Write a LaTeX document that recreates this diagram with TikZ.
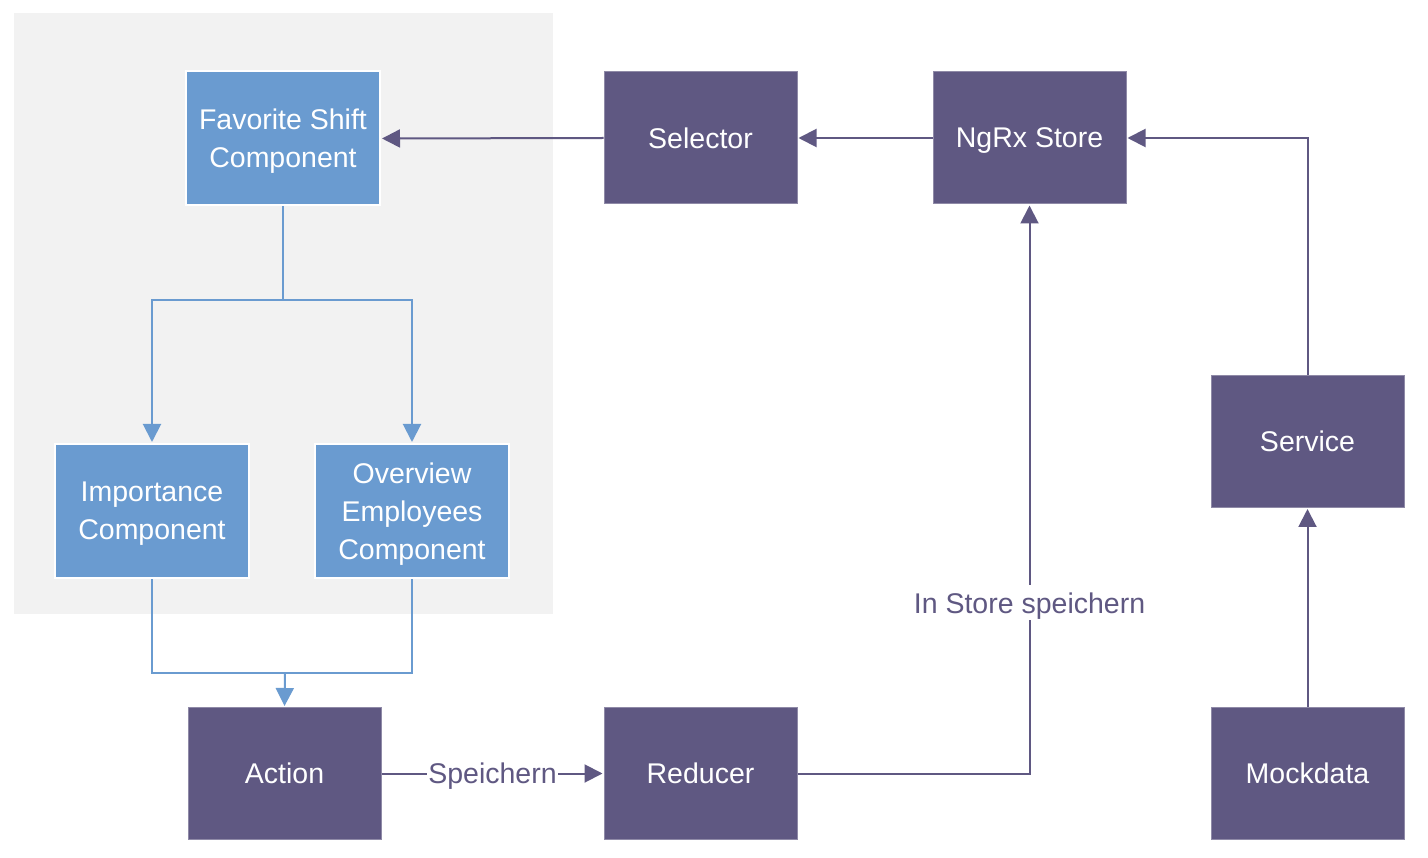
\documentclass[tikz,border=0pt]{standalone}
\usepackage{fontspec}
\setmainfont{Liberation Sans}
\usetikzlibrary{arrows.meta}
\definecolor{lblue}{HTML}{6A9BD0}
\definecolor{dpurple}{HTML}{5F5882}
\definecolor{bggray}{HTML}{F2F2F2}
\begin{document}
\begin{tikzpicture}[x=1pt,y=-1pt,
  every node/.style={font=\fontsize{28.5}{38}\selectfont, align=center, inner sep=0pt, text depth=0pt},
  bluebox/.style={rectangle, fill=lblue, draw=white, line width=2pt, text=white, minimum width=194pt, minimum height=134pt},
  purplebox/.style={rectangle, fill=dpurple, draw=dpurple!70!white, line width=1pt, text=white, minimum width=193pt, minimum height=132pt},
  pline/.style={draw=dpurple, line width=2pt},
  bline/.style={draw=lblue, line width=2pt},
  ptip/.style={-{Triangle[length=18pt,width=18pt]}, shorten >=1pt},
  lbl/.style={fill=white, text=dpurple, inner xsep=1pt, inner ysep=7pt, text height=20.8pt, text depth=0pt}
]
\useasboundingbox (0,0) rectangle (1428,858);
\fill[bggray] (14,13) rectangle (553,614);

\node[bluebox] (fav) at (283,138.5) {Favorite Shift\\Component};
\node[bluebox] (imp) at (152,511) {Importance\\Component};
\node[bluebox] (ov) at (412,511) {Overview\\Employees\\Component};

\node[purplebox] (sel) at (700.5,138) {Selector};
\node[purplebox] (store) at (1029.5,138) {NgRx Store};
\node[purplebox] (service) at (1307.5,441.5) {Service};
\node[purplebox] (action) at (284.5,773.5) {Action};
\node[purplebox] (reducer) at (700.5,773.5) {Reducer};
\node[purplebox] (mock) at (1307.5,773.5) {Mockdata};

\coordinate (split) at (283,300);
\coordinate (join) at (285,673);

% purple connectors
\draw[pline, ptip] (sel.west) -- (fav.east);
\draw[pline, ptip] (store.west) -- (sel.east);
\draw[pline, ptip] (service.north) |- (store.east);
\draw[pline, ptip] (mock.north) -- (service.south);
\draw[pline, ptip] (action.east) -- node[lbl] (lab1) {Speichern} (reducer.west);
\draw[pline, ptip] (reducer.east) -| node[lbl, pos=0.65] (lab2) {In Store speichern} (store.south);

% blue connectors
\draw[bline] (fav.south) -- (split);
\draw[bline, -{Triangle[length=18pt,width=18pt]}, shorten >=1pt] (split) -| (imp.north);
\draw[bline, -{Triangle[length=18pt,width=18pt]}, shorten >=1pt] (split) -| (ov.north);
\draw[bline] (imp.south) |- (join) -| (ov.south);
\draw[bline, -{Triangle[length=18pt,width=18pt]}, shorten >=1pt] (join) -- (action.north);
\end{tikzpicture}
\end{document}
